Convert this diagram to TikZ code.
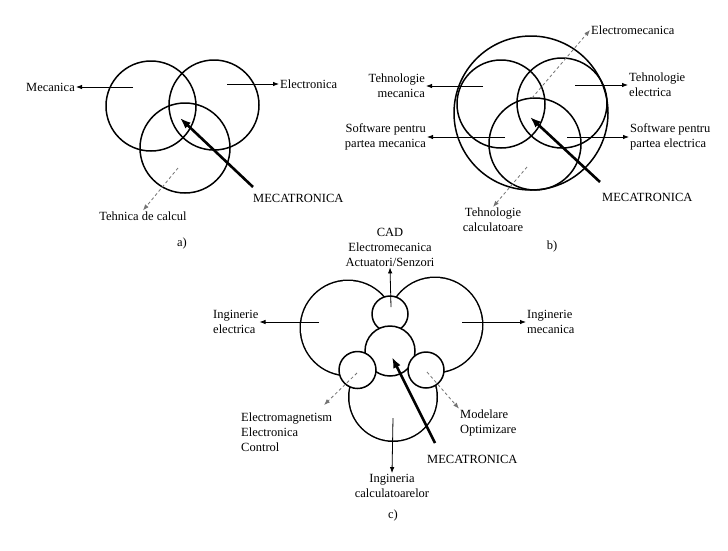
\documentclass[tikz,border=0pt]{standalone}
\usepackage{fontspec}
\setmainfont{Liberation Serif}
\usetikzlibrary{arrows.meta}
\begin{document}
\begin{tikzpicture}[x=1pt,y=-1pt,
  circ/.style={line width=1.5pt},
  arr/.style={line width=0.8pt,-{Latex[length=6pt,width=4.5pt]}},
  dsh/.style={line width=0.8pt,dash pattern=on 3pt off 2.5pt,draw=black!55,-{Latex[length=6pt,width=4.5pt]}},
  mec/.style={line width=2.6pt,-{Latex[length=11pt,width=8pt]}},
  lbl/.style={font=\fontsize{12.5}{15}\selectfont,inner sep=1pt},
]
\useasboundingbox (0,0) rectangle (728,550);
\fill[white] (0,0) rectangle (728,550);

% ---------------- a) ----------------
\draw[circ] (151,106) circle (45);
\draw[circ] (214,105) circle (45);
\draw[circ] (185,148) circle (45);
\node[lbl,anchor=east] (amec) at (76,87) {Mecanica};
\node[lbl,anchor=west] (aele) at (279,84) {Electronica};
\node[lbl] (atc) at (143,216) {Tehnica de calcul};
\node[lbl,anchor=west] (amt) at (252,198) {MECATRONICA};
\node[lbl] (alab) at (182,243) {a)};
\coordinate (amec0) at (133,87);
\coordinate (aele0) at (227,84);
\coordinate (atc0) at (178,168);
\coordinate (amt0) at (253,187);
\coordinate (amt1) at (180,118);
\draw[arr] (amec0) -- (amec);
\draw[arr] (aele0) -- (aele);
\draw[dsh] (atc0) -- (atc.north);
\draw[mec] (amt0) -- (amt1);

% ---------------- b) ----------------
\draw[circ] (531,113) circle (77);
\draw[circ] (501,104) circle (44);
\draw[circ] (562,103) circle (45);
\draw[circ] (535,144) circle (46);
\node[lbl,anchor=west] (bem) at (590,30) {Electromecanica};
\node[lbl,anchor=east,align=right] (btm) at (426,86) {Tehnologie\\mecanica};
\node[lbl,anchor=west,align=left] (bte) at (628,85) {Tehnologie\\electrica};
\node[lbl,anchor=east,align=right] (bsm) at (427,137) {Software pentru\\partea mecanica};
\node[lbl,anchor=west,align=left] (bse) at (629,137) {Software pentru\\partea electrica};
\node[lbl,anchor=west] (bmt) at (601,197) {MECATRONICA};
\node[lbl,align=center] (btc) at (493,220) {Tehnologie\\calculatoare};
\node[lbl] (blab) at (552,246) {b)};
\coordinate (bem0) at (532,98);
\coordinate (btm0) at (483,86);
\coordinate (bte0) at (575,85);
\coordinate (bsm0) at (505,137);
\coordinate (bse0) at (567,137);
\coordinate (bmt0) at (600,182);
\coordinate (bmt1) at (530,117);
\coordinate (btc0) at (527,167);
\draw[dsh] (bem0) -- (bem.west);
\draw[arr] (btm0) -- (btm);
\draw[arr] (bte0) -- (bte);
\draw[arr] (bsm0) -- (bsm);
\draw[arr] (bse0) -- (bse);
\draw[dsh] (btc0) -- (btc.north);
\draw[mec] (bmt0) -- (bmt1);

% ---------------- c) ----------------
\draw[line width=3pt] (348,328) circle (47) (435,325) circle (47) (393,397) circle (43.5);
\fill[white] (348,328) circle (47) (435,325) circle (47) (393,397) circle (43.5);
\draw[circ,fill=white] (390,314) circle (18);
\draw[circ,fill=white] (390,351) circle (25);
\draw[circ,fill=white] (357.5,370) circle (18.5);
\draw[circ,fill=white] (426,370) circle (18);
\node[lbl,align=center] (ccad) at (390,247) {CAD\\Electromecanica\\Actuatori/Senzori};
\node[lbl,anchor=west,align=left] (cie) at (212,322) {Inginerie\\electrica};
\node[lbl,anchor=west,align=left] (cim) at (526,322) {Inginerie\\mecanica};
\node[lbl,align=center] (cic) at (392,486) {Ingineria\\calculatoarelor};
\node[lbl,anchor=west,align=left] (cem) at (240,432) {Electromagnetism\\Electronica\\Control};
\node[lbl,anchor=west,align=left] (cmo) at (459,423) {Modelare\\Optimizare};
\node[lbl,anchor=west] (cmt) at (426,459) {MECATRONICA};
\node[lbl] (clab) at (393,515) {c)};
\coordinate (ccad0) at (391,307);
\coordinate (cie0) at (319,322);
\coordinate (cim0) at (462,322);
\coordinate (cic0) at (393,418);
\coordinate (cem0) at (357,373);
\coordinate (cem1) at (324,405);
\coordinate (cmo0) at (427,372);
\coordinate (cmt0) at (435,443);
\coordinate (cmt1) at (392,357);
\draw[arr] (ccad0) -- (ccad.south);
\draw[arr] (cie0) -- (cie);
\draw[arr] (cim0) -- (cim);
\draw[arr] (cic0) -- (cic.north);
\draw[dsh] (cem0) -- (cem1);
\draw[dsh] (cmo0) -- (cmo.north west);
\draw[mec] (cmt0) -- (cmt1);
\end{tikzpicture}
\end{document}
